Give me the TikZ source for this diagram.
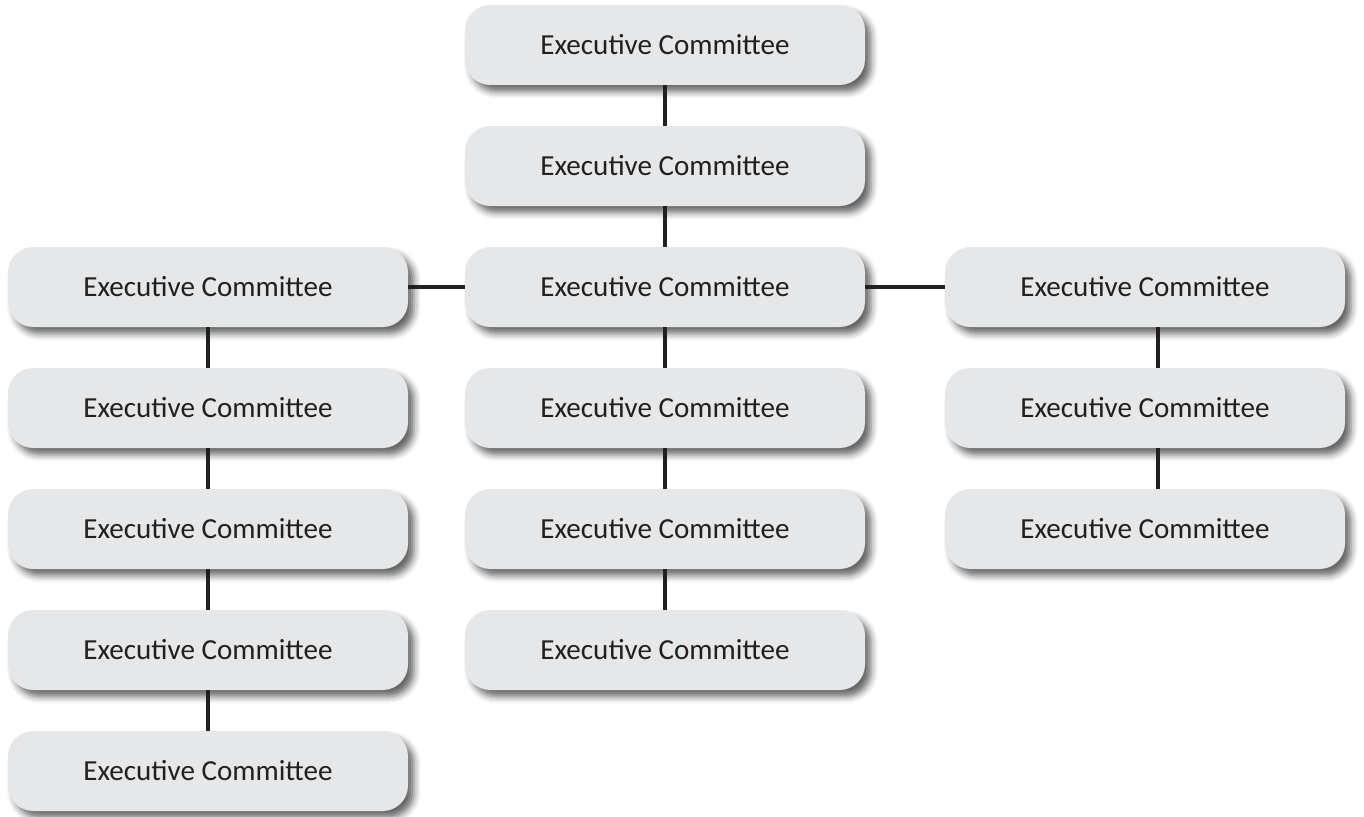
\documentclass[tikz,border=0pt]{standalone}
\usepackage{fontspec}
\setmainfont{Carlito}
\usetikzlibrary{shadows.blur}
\definecolor{boxfill}{HTML}{E6E7E8}
\definecolor{ink}{HTML}{231F20}
\tikzset{
  orgbox/.style={draw=none, fill=boxfill, rounded corners=19pt, minimum width=300pt, minimum height=60pt, inner sep=0pt,
    text=ink, font=\fontsize{21.8pt}{24pt}\selectfont,
    blur shadow={shadow xshift=4.5pt, shadow yshift=-5pt, shadow blur radius=5pt, shadow opacity=60}},
  link/.style={draw=ink, line width=2.6pt}
}
\begin{document}
\begin{tikzpicture}[x=0.75pt,y=-0.75pt]
\useasboundingbox (0,0) rectangle (1364,817);
% centre column
\node[orgbox] (c1) at (665,45) {Executive Committee};
\node[orgbox] (c2) at (665,166) {Executive Committee};
\node[orgbox] (c3) at (665,287) {Executive Committee};
\node[orgbox] (c4) at (665,408) {Executive Committee};
\node[orgbox] (c5) at (665,529) {Executive Committee};
\node[orgbox] (c6) at (665,650) {Executive Committee};
% left column
\node[orgbox] (l1) at (208,287) {Executive Committee};
\node[orgbox] (l2) at (208,408) {Executive Committee};
\node[orgbox] (l3) at (208,529) {Executive Committee};
\node[orgbox] (l4) at (208,650) {Executive Committee};
\node[orgbox] (l5) at (208,771) {Executive Committee};
% right column
\node[orgbox] (r1) at (1145,287) {Executive Committee};
\node[orgbox] (r2) at (1145,408) {Executive Committee};
\node[orgbox] (r3) at (1145,529) {Executive Committee};
% connectors
\draw[link] (c1.south) -- (c2.north);
\draw[link] (c2.south) -- (c3.north);
\draw[link] (c3.south) -- (c4.north);
\draw[link] (c4.south) -- (c5.north);
\draw[link] (c5.south) -- (c6.north);
\draw[link] (l1.south) -- (l2.north);
\draw[link] (l2.south) -- (l3.north);
\draw[link] (l3.south) -- (l4.north);
\draw[link] (l4.south) -- (l5.north);
\draw[link] ([xshift=9.75pt]r1.south) -- ([xshift=9.75pt]r2.north);
\draw[link] ([xshift=9.75pt]r2.south) -- ([xshift=9.75pt]r3.north);
\draw[link] (l1.east) -- (c3.west);
\draw[link] (c3.east) -- (r1.west);
\end{tikzpicture}
\end{document}
